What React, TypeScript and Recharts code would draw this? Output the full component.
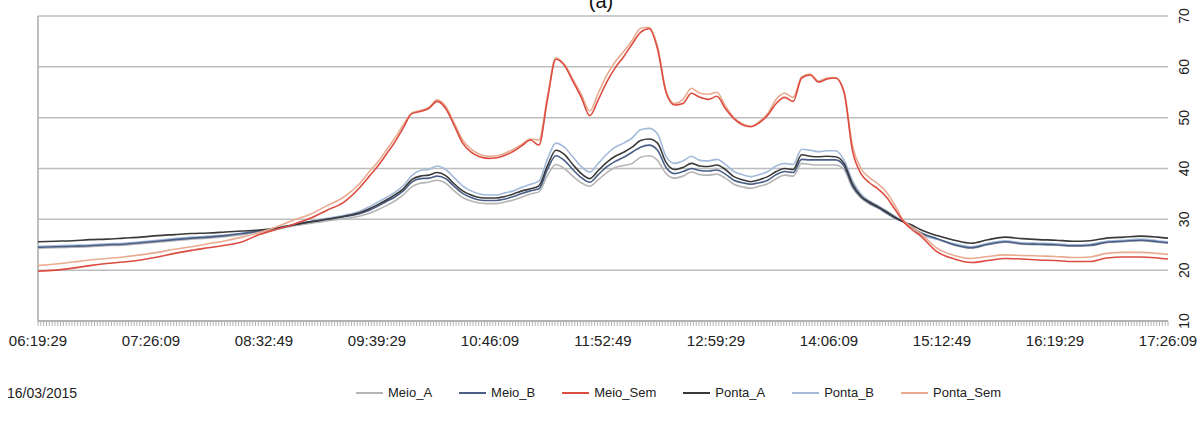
import { LineChart, Line, XAxis, YAxis, CartesianGrid, ReferenceLine } from "recharts";

const times = [
  "06:19:29", "06:30", "06:40", "06:50", "07:00", "07:10", "07:20", "07:30", "07:40", "07:50",
  "08:00", "08:10", "08:20", "08:30", "08:40", "08:50", "09:00", "09:10", "09:20",
  "09:30", "09:35", "09:40", "09:45", "09:50", "09:55",
  "10:00", "10:05", "10:10", "10:15", "10:20", "10:25", "10:30", "10:35", "10:40", "10:45", "10:50", "10:55",
  "11:00", "11:05", "11:10", "11:15", "11:20", "11:25", "11:30", "11:35", "11:40", "11:45", "11:50", "11:55",
  "12:00", "12:05", "12:10", "12:15", "12:20", "12:25", "12:30", "12:35", "12:40", "12:45", "12:50", "12:55",
  "13:00", "13:05", "13:10", "13:15", "13:20", "13:25", "13:30", "13:35", "13:40", "13:45", "13:50", "13:55",
  "14:00", "14:05", "14:10", "14:15", "14:20", "14:25", "14:30", "14:35", "14:40", "14:45", "14:50", "14:55",
  "15:00", "15:10", "15:20", "15:30", "15:40", "15:50", "16:00", "16:10", "16:20", "16:30", "16:40", "16:50",
  "17:00", "17:10", "17:20", "17:26:09",
];

const meioA = [
  24.3, 24.4, 24.5, 24.6, 24.8, 24.9, 25.2, 25.5, 25.8, 26.1, 26.3, 26.6, 27.0, 27.5, 28.0, 28.7, 29.2, 29.7, 30.1,
  30.7, 31.2, 31.9, 32.7, 33.6, 34.8, 36.4, 37.1, 37.3, 37.7, 37.1, 35.6, 34.3, 33.6, 33.2, 33.1, 33.1, 33.4,
  33.8, 34.4, 35.0, 35.4, 38.6, 40.8, 40.0, 38.5, 37.2, 36.5, 37.8, 39.2,
  40.2, 40.6, 41.0, 42.2, 42.5, 41.6, 39.0, 38.1, 38.5, 39.3, 38.8, 38.7,
  38.9, 38.1, 36.9, 36.4, 36.1, 36.5, 37.0, 38.0, 38.7, 38.5, 41.0, 40.8,
  40.7, 40.7, 40.7, 39.8, 36.2, 34.2, 33.0, 32.2, 31.2, 30.2, 29.5, 28.4,
  27.3, 26.1, 24.9, 24.3, 25.0, 25.5, 25.1, 25.0, 24.9, 24.7, 24.8, 25.4, 25.6, 25.8, 25.5, 25.3,
];

const meioB = [
  24.5, 24.6, 24.7, 24.8, 25.0, 25.1, 25.4, 25.7, 26.0, 26.3, 26.5, 26.8, 27.2, 27.7, 28.2, 28.9, 29.5, 30.0, 30.5,
  31.2, 31.8, 32.6, 33.5, 34.4, 35.6, 37.3, 38.0, 38.1, 38.5, 38.0, 36.5, 35.1, 34.3, 33.8, 33.7, 33.7, 34.0,
  34.5, 35.1, 35.6, 36.0, 39.8, 42.5, 41.6, 39.8, 38.2, 37.3, 38.8, 40.3,
  41.4, 42.2, 43.2, 44.2, 44.6, 43.6, 40.2, 39.0, 39.4, 40.0, 39.6, 39.5,
  39.7, 38.9, 37.7, 37.2, 36.9, 37.2, 37.7, 38.8, 39.4, 39.2, 41.8, 41.7,
  41.7, 41.7, 41.7, 40.5, 36.6, 34.4, 33.2, 32.3, 31.3, 30.3, 29.5, 28.5,
  27.4, 26.2, 25.0, 24.4, 25.1, 25.6, 25.2, 25.1, 25.0, 24.8, 24.9, 25.5, 25.7, 25.9, 25.6, 25.4,
];

const meioSem = [
  19.8, 20.0, 20.4, 20.9, 21.3, 21.6, 22.0, 22.6, 23.3, 23.9, 24.4, 24.9, 25.6, 27.0, 28.0, 29.0, 30.2, 31.8, 33.4,
  36.5, 38.5, 40.5, 42.8, 45.2, 48.0, 50.8, 51.2, 51.8, 53.2, 51.8, 48.5, 45.0, 43.2, 42.3, 42.0, 42.1, 42.6,
  43.4, 44.5, 45.6, 44.6, 53.5, 61.5, 60.3, 57.2, 54.0, 50.4, 53.5, 57.0,
  59.8, 62.0, 64.5, 66.8, 67.5, 63.5, 55.0, 52.5, 52.8, 54.8, 54.0, 53.6,
  54.2, 51.8, 49.8, 48.6, 48.2, 49.0, 50.5, 52.8, 54.0, 53.2, 57.8, 58.4,
  57.0, 57.6, 57.8, 55.0, 43.5, 39.0, 37.2, 36.0, 34.4, 32.0, 29.6, 28.0,
  26.8, 23.6, 22.2, 21.5, 21.9, 22.3, 22.2, 22.0, 21.9, 21.7, 21.7, 22.4, 22.6, 22.6, 22.4, 22.2,
];

const pontaA = [
  25.6, 25.7, 25.8, 26.0, 26.1, 26.3, 26.5, 26.8, 27.0, 27.2, 27.3, 27.5, 27.7, 27.9, 28.3, 28.9, 29.5, 30.0, 30.6,
  31.4, 32.1, 32.9, 33.8, 34.8, 36.0, 37.8, 38.5, 38.7, 39.2, 38.6, 37.0, 35.6, 34.8, 34.3, 34.2, 34.2, 34.5,
  35.0, 35.6, 36.0, 36.6, 40.5, 43.6, 42.8, 40.8, 39.0, 38.0, 39.6, 41.2,
  42.4, 43.2, 44.2, 45.5, 45.8, 45.0, 41.2, 39.8, 40.2, 41.0, 40.5, 40.4,
  40.7, 39.8, 38.4, 37.8, 37.4, 37.8, 38.4, 39.4, 40.0, 39.8, 42.7, 42.4,
  42.3, 42.4, 42.3, 41.0, 37.0, 34.6, 33.4, 32.5, 31.5, 30.4, 29.5, 28.9,
  28.0, 26.8, 25.9, 25.3, 26.0, 26.5, 26.2, 26.0, 25.9, 25.7, 25.8, 26.3, 26.5, 26.7, 26.5, 26.3,
];

const pontaB = [
  24.7, 24.8, 24.9, 25.0, 25.2, 25.3, 25.6, 25.9, 26.2, 26.5, 26.7, 26.9, 27.3, 27.8, 28.3, 29.0, 29.6, 30.2, 30.8,
  31.7, 32.5, 33.4, 34.3, 35.3, 36.6, 38.6, 39.6, 39.8, 40.5, 39.8, 38.2, 36.6, 35.6, 35.0, 34.8, 34.8, 35.2,
  35.6, 36.3, 36.9, 37.5, 41.8, 45.0, 44.2, 42.3, 40.4, 39.3, 41.0, 42.8,
  44.2, 45.0, 46.0, 47.6, 47.9, 46.8, 42.4, 41.0, 41.5, 42.4, 41.6, 41.5,
  41.8, 40.8, 39.4, 38.8, 38.4, 38.8, 39.4, 40.5, 41.0, 40.8, 43.8, 43.6,
  43.3, 43.5, 43.5, 41.7, 37.6, 35.0, 33.6, 32.7, 31.7, 30.6, 29.6, 28.6,
  27.0, 26.1, 25.2, 24.6, 25.3, 25.8, 25.4, 25.3, 25.2, 25.0, 25.1, 25.7, 25.9, 26.1, 25.8, 25.6,
];

const pontaSem = [
  20.9, 21.2, 21.6, 22.0, 22.3, 22.6, 23.0, 23.5, 24.1, 24.6, 25.2, 25.8, 26.5, 27.4, 28.5, 29.8, 31.0, 32.7, 34.4,
  37.3, 39.4, 41.3, 43.6, 46.0, 48.6, 50.9, 51.4, 52.0, 53.5, 52.2, 49.0, 45.6, 43.8, 42.8, 42.4, 42.5, 43.0,
  43.8, 44.8, 45.8, 45.6, 54.0, 61.8, 60.5, 57.6, 54.6, 51.3, 54.8, 58.3,
  61.0, 63.0, 65.2, 67.6, 67.8, 64.0, 55.3, 52.8, 53.6, 55.8, 54.8, 54.6,
  55.0, 52.3, 50.0, 48.8, 48.3, 49.2, 50.8, 53.6, 54.8, 54.0, 58.0, 58.6,
  57.2, 57.8, 57.9, 55.2, 44.5, 40.0, 38.2, 37.0, 35.4, 32.8, 29.8, 28.5,
  27.3, 24.3, 22.9, 22.3, 22.7, 23.0, 22.9, 22.8, 22.7, 22.5, 22.6, 23.3, 23.5, 23.5, 23.3, 23.1,
];

const xLabels = [
  "06:19:29", "07:26:09", "08:32:49", "09:39:29", "10:46:09", "11:52:49",
  "12:59:29", "14:06:09", "15:12:49", "16:19:29", "17:26:09",
];
const yTicks = [10, 20, 30, 40, 50, 60, 70];
const dateLabel = "16/03/2015";

const series = [
  { key: "Meio_A", values: meioA, color: "#b5b5b5" },
  { key: "Meio_B", values: meioB, color: "#4a5e86" },
  { key: "Meio_Sem", values: meioSem, color: "#dc4c40" },
  { key: "Ponta_A", values: pontaA, color: "#3a3a3a" },
  { key: "Ponta_B", values: pontaB, color: "#a3badb" },
  { key: "Ponta_Sem", values: pontaSem, color: "#e9ab90" },
];
// draw order: group lines first, red on top
const drawOrder = ["Meio_A", "Ponta_B", "Meio_B", "Ponta_A", "Ponta_Sem", "Meio_Sem"];

const toSec = (s: string) => {
  const [h, m, sec = "0"] = s.split(":");
  return Number(h) * 3600 + Number(m) * 60 + Number(sec);
};

const T0 = toSec(xLabels[0]);
const T1 = toSec(xLabels[xLabels.length - 1]);
const STEP = (T1 - T0) / (xLabels.length - 1);

const data = times.map((tm, i) => {
  const row: Record<string, number> = { t: toSec(tm) };
  series.forEach((s) => (row[s.key] = s.values[i]));
  return row;
});

// dense minor ticks for the hatched axis
const hatch: number[] = [];
for (let t = T0; t <= T1 + 1; t += 100) hatch.push(t);

const font = '"Liberation Sans", Arial, sans-serif';

const XTick = (props: any) => {
  const { x, y, payload } = props;
  const k = (payload.value - T0) / STEP;
  if (Math.abs(k - Math.round(k)) > 1e-6) return <g />;
  return (
    <text x={x} y={y + 18} textAnchor="middle" fontSize={15} fill="#222" fontFamily={font}>
      {xLabels[Math.round(k)]}
    </text>
  );
};

const YTick = (props: any) => {
  const { x, y, payload } = props;
  const cx = x + 16;
  return (
    <text
      x={cx}
      y={y}
      transform={`rotate(-90 ${cx} ${y})`}
      textAnchor="middle"
      dominantBaseline="central"
      fontSize={14}
      fill="#222"
      fontFamily={font}
    >
      {payload.value}
    </text>
  );
};

export default function App() {
  return (
    <div
      style={{
        position: "absolute",
        left: 0,
        top: 0,
        width: 1203,
        height: 423,
        background: "#fff",
        overflow: "hidden",
        fontFamily: font,
      }}
    >
      <svg width={1203} height={20} style={{ position: "absolute", left: 0, top: 0 }}>
        <text x={601} y={8} textAnchor="middle" fontSize={20} fill="#111" fontFamily={font}>
          (a)
        </text>
      </svg>

      <LineChart width={1203} height={360} data={data} margin={{ top: 16, right: 0, left: 38, bottom: 9 }}>
        <CartesianGrid vertical={false} stroke="#bdbdbd" strokeWidth={1.5} />
        <XAxis
          dataKey="t"
          type="number"
          domain={[T0, T1]}
          ticks={hatch}
          interval={0}
          height={30}
          tick={<XTick />}
          tickSize={5}
          tickLine={{ stroke: "#b3b3b3" }}
          axisLine={{ stroke: "#a8a8a8", strokeWidth: 1.5 }}
          allowDataOverflow
        />
        <YAxis
          orientation="right"
          domain={[10, 70]}
          ticks={yTicks}
          interval={0}
          width={35}
          axisLine={false}
          tickLine={false}
          tickSize={0}
          tickMargin={0}
          tick={<YTick />}
        />
        <ReferenceLine x={T0} stroke="#a8a8a8" strokeWidth={1.5} />
        {drawOrder.map((k) => {
          const s = series.find((d) => d.key === k)!;
          return (
            <Line
              key={k}
              type="monotone"
              dataKey={k}
              stroke={s.color}
              strokeWidth={1.6}
              dot={false}
              isAnimationActive={false}
            />
          );
        })}
      </LineChart>

      <div style={{ position: "absolute", left: 7, top: 385, fontSize: 14, color: "#222" }}>{dateLabel}</div>
      <div
        style={{
          position: "absolute",
          left: 356,
          top: 385,
          display: "flex",
          gap: 27,
          fontSize: 13,
          color: "#222",
        }}
      >
        {series.map((s) => (
          <div key={s.key} style={{ display: "flex", alignItems: "center", gap: 5 }}>
            <div style={{ width: 27, height: 2, background: s.color }} />
            <span>{s.key}</span>
          </div>
        ))}
      </div>
    </div>
  );
}
